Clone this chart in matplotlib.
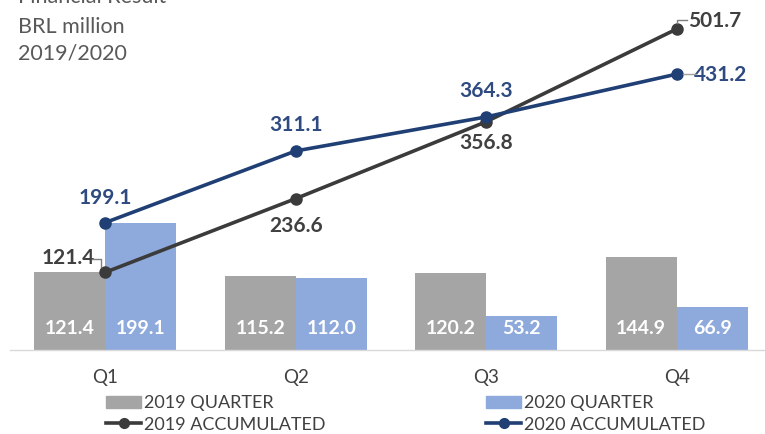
import numpy as np
import matplotlib.pyplot as plt
from matplotlib.patches import Patch
from matplotlib.lines import Line2D
from matplotlib.transforms import IdentityTransform

plt.rcParams['font.family'] = ['Lato', 'DejaVu Sans']

quarters = ["Q1", "Q2", "Q3", "Q4"]
q2019 = [121.4, 115.2, 120.2, 144.9]
q2020 = [199.1, 112.0, 53.2, 66.9]
acc2019 = [121.4, 236.6, 356.8, 501.7]
acc2020 = [199.1, 311.1, 364.3, 431.2]

c_bar19 = "#A5A5A5"
c_bar20 = "#8EA9DB"
c_line19 = "#3B3B3B"
c_line20 = "#203F74"
c_lab19 = "#404040"
c_lab20 = "#2F4A80"

W, H = 765, 434
fig = plt.figure(figsize=(W / 100, H / 100), dpi=100)
ax = fig.add_axes([10 / W, 84 / H, 762 / W, 350 / H])

x = np.arange(len(quarters))
bw = 0.373
ax.bar(x - bw / 2, q2019, bw, color=c_bar19, zorder=2)
ax.bar(x + bw / 2, q2020, bw, color=c_bar20, zorder=2)
for i in range(len(x)):
    ax.text(x[i] - bw / 2, 34, f"{q2019[i]:.1f}", color="white", fontsize=14,
            fontweight="bold", ha="center", va="center", zorder=3)
    ax.text(x[i] + bw / 2, 34, f"{q2020[i]:.1f}", color="white", fontsize=14,
            fontweight="bold", ha="center", va="center", zorder=3)

ax.plot(x, acc2019, color=c_line19, lw=2.6, marker="o", ms=8, zorder=4)
ax.plot(x, acc2020, color=c_line20, lw=2.6, marker="o", ms=8, zorder=4)

ax.set_xlim(-0.5, 3.5)
ax.set_ylim(0, 547)

# label offsets in pixels (dx, dy up)
off19 = [(-37, 14), (0, -27), (0, -21), (38, 8)]
off20 = [(0, 25), (0, 26), (0, 26), (44, -1)]
for i in range(4):
    ax.annotate(f"{acc2019[i]:.1f}", (x[i], acc2019[i]), xytext=off19[i], textcoords="offset pixels",
                ha="center", va="center", fontsize=15, fontweight="bold", color=c_lab19)
    ax.annotate(f"{acc2020[i]:.1f}", (x[i], acc2020[i]), xytext=off20[i], textcoords="offset pixels",
                ha="center", va="center", fontsize=15, fontweight="bold", color=c_lab20)

# leader lines, vertices given as pixel offsets from the data point
fig.canvas.draw()
def leader(xv, yv, pts, color):
    px, py = ax.transData.transform((xv, yv))
    xs = [px + dx for dx, dy in pts]
    ys = [py + dy for dx, dy in pts]
    fig.add_artist(Line2D(xs, ys, transform=IdentityTransform(), color=color, lw=1.0))

leader(x[0], acc2019[0], [(-13, 13), (-4, 13), (-4, 5)], "#7F7F7F")
leader(x[3], acc2019[3], [(0, 6), (0, 9), (10, 9)], "#7F7F7F")
leader(x[3], acc2020[3], [(6, 0), (19, 0)], "#A0A0A0")

for s in ["top", "right", "left"]:
    ax.spines[s].set_visible(False)
ax.spines["bottom"].set_color("#D9D9D9")
ax.spines["bottom"].set_linewidth(1)
ax.set_yticks([])
ax.set_xticks(x)
ax.set_xticklabels(quarters, fontsize=13.5, color="#404040")
ax.tick_params(axis="x", length=0, pad=14)

# title block
tk = dict(fontsize=15.5, color="#595959", ha="left", va="center")
fig.text(18 / W, 1 - (-3) / H, "Financial Result", **tk)
fig.text(18 / W, 1 - 27 / H, "BRL million", **tk)
fig.text(18 / W, 1 - 53 / H, "2019/2020", **tk)

handles = [Patch(color=c_bar19), Line2D([], [], color=c_line19, lw=2.6, marker="o", ms=7),
           Patch(color=c_bar20), Line2D([], [], color=c_line20, lw=2.6, marker="o", ms=7)]
labels = ["2019 QUARTER", "2019 ACCUMULATED", "2020 QUARTER", "2020 ACCUMULATED"]
fig.legend(handles, labels, ncol=2, frameon=False, fontsize=13, labelcolor="#404040",
           loc="center left", bbox_to_anchor=(97 / W, 1 - 414 / H), handlelength=1.95,
           handletextpad=0.15, columnspacing=8.9, labelspacing=0.3, borderpad=0)

fig.savefig("out.png", dpi=100)
